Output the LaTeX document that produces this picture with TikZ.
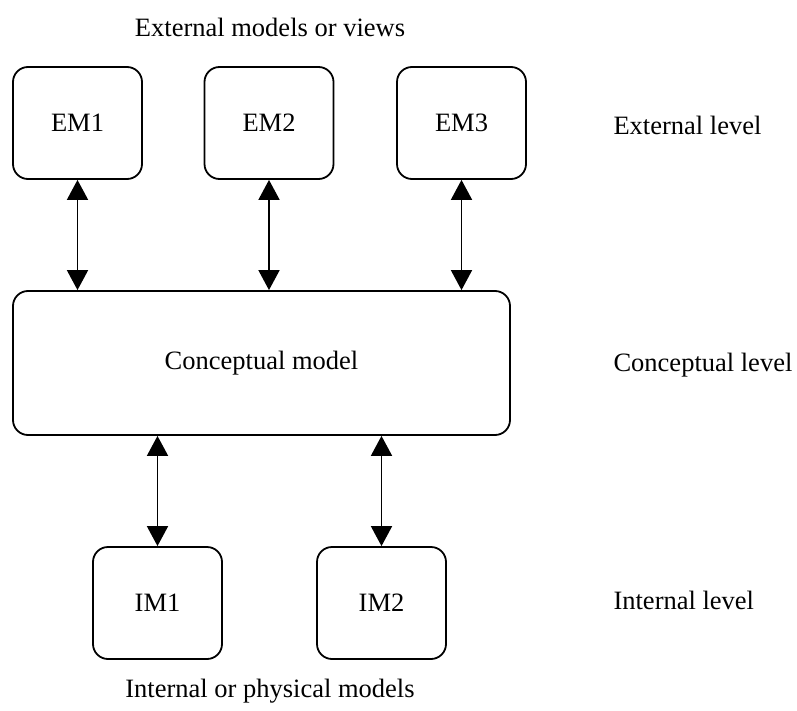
\documentclass[tikz,border=0pt]{standalone}
\usepackage{fontspec}
\setmainfont{Liberation Serif}
\usetikzlibrary{positioning,calc,arrows.meta}

\begin{document}
\begin{tikzpicture}[x=1pt,y=-1pt,>={Triangle[length=20pt,width=21pt]},
  every node/.style={font=\fontsize{26.5}{30}\selectfont},
  model/.style={draw,line width=1.8pt,rounded corners=15pt,inner sep=0pt,
    minimum width=129pt,minimum height=112pt},
  link/.style={<->,line width=1.8pt}]
\useasboundingbox (0,0) rectangle (797,711);
% external level
\node[model] (em1) at (77.5,123) {EM1};
\node[model] (em2) at (269,123) {EM2};
\node[model] (em3) at (461.5,123) {EM3};
% conceptual level
\node[model,minimum width=497pt,minimum height=144pt] (cm) at (261.5,363) {Conceptual model};
% internal level
\node[model] (im1) at (157.5,603) {IM1};
\node[model] (im2) at (381.5,603) {IM2};
% titles
\node (ext) at (270,27) {External models or views};
\node (int) at (270,691) {Internal or physical models};
\node[anchor=west] (lext) at (610,125) {External level};
\node[anchor=west] (lcon) at (610,365) {Conceptual level};
\node[anchor=west] (lint) at (610,600) {Internal level};
% mappings
\foreach \m in {em1,em2,em3}
  \draw[link] (\m.south) -- (\m.south |- cm.north);
\foreach \m in {im1,im2}
  \draw[link] (\m.north) -- (\m.north |- cm.south);
\end{tikzpicture}
\end{document}
